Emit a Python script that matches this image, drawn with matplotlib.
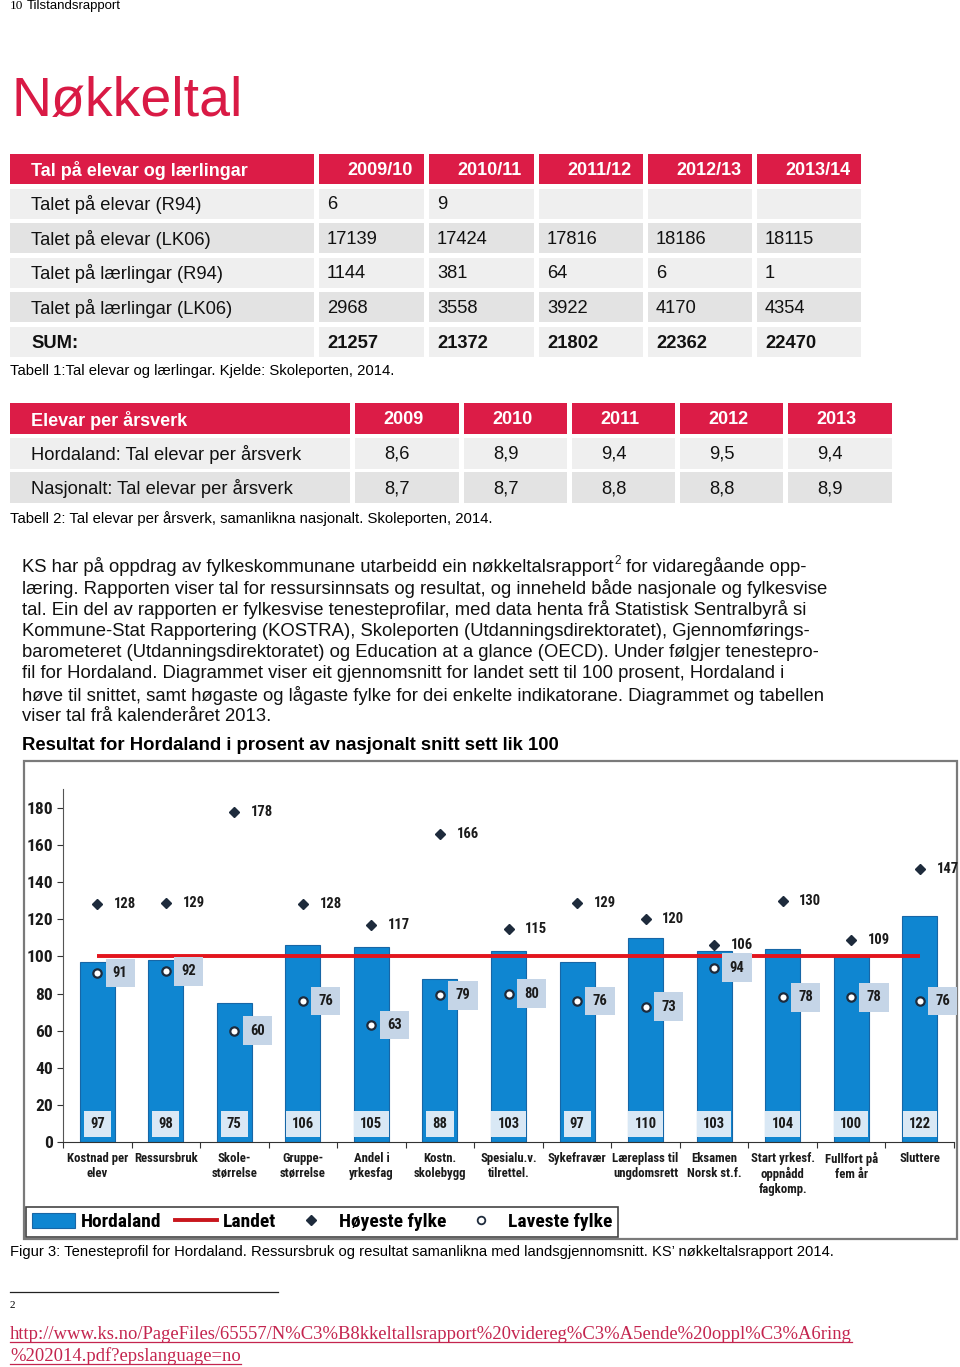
import os
import matplotlib
matplotlib.use("Agg")
import matplotlib.pyplot as plt
from matplotlib.patches import Rectangle, Patch
from matplotlib.lines import Line2D
from matplotlib import font_manager
from matplotlib.font_manager import FontProperties

# --- data -------------------------------------------------------------
t1_head = 'Tal på elevar og lærlingar'
t1_years = ['2009/10', '2010/11', '2011/12', '2012/13', '2013/14']
t1_labels = ['Talet på elevar (R94)', 'Talet på elevar (LK06)',
             'Talet på lærlingar (R94)', 'Talet på lærlingar (LK06)', 'SUM:']
elevar_r94 = ['6', '9', '', '', '']
elevar_lk06 = ['17139', '17424', '17816', '18186', '18115']
laerl_r94 = ['1144', '381', '64', '6', '1']
laerl_lk06 = ['2968', '3558', '3922', '4170', '4354']
t1_sum = ['21257', '21372', '21802', '22362', '22470']

t2_head = 'Elevar per årsverk'
t2_years = ['2009', '2010', '2011', '2012', '2013']
t2_labels = ['Hordaland: Tal elevar per årsverk', 'Nasjonalt: Tal elevar per årsverk']
hordaland_aarsverk = ['8,6', '8,9', '9,4', '9,5', '9,4']
nasjonalt_aarsverk = ['8,7', '8,7', '8,8', '8,8', '8,9']

categories = ['Kostnad per\nelev', 'Ressursbruk', 'Skole-\nstørrelse', 'Gruppe-\nstørrelse',
              'Andel i\nyrkesfag', 'Kostn.\nskolebygg', 'Spesialu.v.\ntilrettel.', 'Sykefravær',
              'Læreplass til\nungdomsrett', 'Eksamen\nNorsk st.f.', 'Start yrkesf.\noppnådd\nfagkomp.',
              'Fullfort på\nfem år', 'Sluttere']
hordaland = [97, 98, 75, 106, 105, 88, 103, 97, 110, 103, 104, 100, 122]
landet = [100] * 13
hoyeste = [128, 129, 178, 128, 117, 166, 115, 129, 120, 106, 130, 109, 147]
laveste = [91, 92, 60, 76, 63, 79, 80, 76, 73, 94, 78, 78, 76]

paragraph = [
    'KS har på oppdrag av fylkeskommunane utarbeidd ein nøkkeltalsrapport',
    'læring. Rapporten viser tal for ressursinnsats og resultat, og inneheld både nasjonale og fylkesvise',
    'tal. Ein del av rapporten er fylkesvise tenesteprofilar, med data henta frå Statistisk Sentralbyrå si',
    'Kommune-Stat Rapportering (KOSTRA), Skoleporten (Utdanningsdirektoratet), Gjennomførings-',
    'barometeret (Utdanningsdirektoratet) og Education at a glance (OECD). Under følgjer tenestepro-',
    'fil for Hordaland. Diagrammet viser eit gjennomsnitt for landet sett til 100 prosent, Hordaland i',
    'høve til snittet, samt høgaste og lågaste fylke for dei enkelte indikatorane. Diagrammet og tabellen',
    'viser tal frå kalenderåret 2013.',
]

# --- style ------------------------------------------------------------
RED = '#d91a45'
BAR = '#0f86d1'
NAVY = '#1e2b3c'
SANS = 'Liberation Sans'
plt.rcParams['font.family'] = SANS


def narrow_bold_file():
    fonts = font_manager.fontManager.ttflist
    prefs = ['liberation sans narrow', 'arial narrow', 'roboto condensed',
             'noto sans condensed', 'open sans condensed', 'dejavu sans condensed']
    bold = [f for f in fonts if f.style == 'normal' and f.weight in (700, 'bold')]
    for p in prefs:
        for f in bold:
            if f.name.lower() == p:
                return f.fname
    for f in fonts:
        fn = os.path.basename(f.fname).lower()
        if any(k in fn for k in ('condensedbold', 'condensed-bold', 'narrow-bold', 'narrowbold')) \
                and not any(k in fn for k in ('semi', 'extra', 'italic', 'mono', 'serif')):
            return f.fname
    return None


NFILE = narrow_bold_file()
SCALE = 1.0 if NFILE else 0.82


def nfp(size):
    if NFILE:
        return FontProperties(fname=NFILE, size=size)
    return FontProperties(family=SANS, weight='bold', size=size * SCALE)


fig = plt.figure(figsize=(9.6, 13.67), dpi=100)
page = fig.add_axes([0, 0, 1, 1])
page.set_xlim(0, 960)
page.set_ylim(1367, 0)
page.axis('off')

# header
page.text(10, 6, '10', family='Liberation Serif', fontsize=9.5, va='center')
page.text(27, 6, 'Tilstandsrapport', fontsize=9.5, va='center')
page.text(12, 116, 'Nøkkeltal', color=RED, fontsize=40, va='baseline')


def table(cols, top, row_h, gap, head, years, labels, rows, val_pad, bold_last=False):
    y = top
    for i, (x0, x1) in enumerate(cols):
        page.add_patch(Rectangle((x0, y), x1 - x0, row_h, color='#dc1c47', lw=0))
        txt = head if i == 0 else years[i - 1]
        page.text(x0 + (21 if i == 0 else 28), y + row_h / 2 + 1.5, txt, color='white',
                  fontsize=13, fontweight='bold', va='center')
    for r, (lab, vals) in enumerate(zip(labels, rows)):
        y = top + (r + 1) * (row_h + gap)
        bg = '#efefef' if r % 2 == 0 else '#e3e3e3'
        fw = 'bold' if (bold_last and r == len(labels) - 1) else 'normal'
        for i, (x0, x1) in enumerate(cols):
            page.add_patch(Rectangle((x0, y), x1 - x0, row_h, color=bg, lw=0))
            txt = lab if i == 0 else vals[i - 1]
            page.text(x0 + (21 if i == 0 else val_pad), y + row_h / 2 + 1, txt, fontsize=13.2,
                      fontweight=fw, va='center', color='#111111')


cols1 = [(10, 314), (319, 424), (429, 534), (539, 643), (648, 752), (757, 861)]
table(cols1, 154, 30, 4.6, t1_head, t1_years, t1_labels,
      [elevar_r94, elevar_lk06, laerl_r94, laerl_lk06, t1_sum], 8, bold_last=True)
page.text(10, 371, 'Tabell 1:Tal elevar og lærlingar. Kjelde: Skoleporten, 2014.',
          fontsize=10.7, va='center')

cols2 = [(10, 350), (355, 459), (464, 567), (572, 675), (680, 783), (788, 892)]
table(cols2, 403, 31, 3.5, t2_head, t2_years, t2_labels,
      [hordaland_aarsverk, nasjonalt_aarsverk], 29)
page.text(10, 519, 'Tabell 2: Tal elevar per årsverk, samanlikna nasjonalt. Skoleporten, 2014.',
          fontsize=10.7, va='center')

# paragraph
PS = 13.3
for k, line in enumerate(paragraph):
    t = page.text(22, 567 + k * 21.4, line, fontsize=PS, va='center', color='#111111')
    if k == 0:
        first = t
page.text(22, 746, 'Resultat for Hordaland i prosent av nasjonalt snitt sett lik 100',
          fontsize=PS, fontweight='bold', va='center')

# chart frame
page.add_patch(Rectangle((24, 761), 933, 478, fill=False, ec='#7a7a7a', lw=1.6))

# --- chart ------------------------------------------------------------
H = 1367.0
ax = fig.add_axes([63 / 960, (H - 1142) / H, (954 - 63) / 960, (1142 - 789.4) / H])
x = list(range(len(categories)))
ax.bar(x, hordaland, width=0.51, color=BAR, edgecolor='#1766a6', lw=0.8, zorder=2)
ax.plot(x, landet, color='#e3151d', lw=2.8, zorder=3, solid_capstyle='butt')
ax.plot(x, hoyeste, ls='none', marker='D', ms=5.5, color=NAVY, zorder=4)
ax.plot(x, laveste, ls='none', marker='o', ms=6, mfc='white', mec=NAVY, mew=1.6, zorder=4)

for i in x:
    ax.annotate(str(hoyeste[i]), (i, hoyeste[i]), xytext=(12, 0), textcoords='offset points',
                ha='left', va='center', fontproperties=nfp(10.5), color='#1b1b1b')
    ax.annotate(str(laveste[i]), (i, laveste[i]), xytext=(16.5, 0), textcoords='offset points',
                ha='center', va='center', zorder=5, fontproperties=nfp(10.5), color='#1b1b1b',
                bbox=dict(boxstyle='square,pad=0.5', fc='#c5d5e7', ec='none'))
    ax.annotate(str(hordaland[i]), (i, 0), xytext=(0, 13), textcoords='offset points',
                ha='center', va='center', zorder=5, fontproperties=nfp(10.5), color='#1b1b1b',
                bbox=dict(boxstyle='square,pad=0.42', fc='#d9e8f5', ec='none'))

ax.set_xlim(-0.5, 12.5)
ax.set_ylim(0, 190)
ax.set_yticks(range(0, 181, 20))
ax.set_xticks(x)
ax.set_xticklabels(categories, linespacing=1.2, color='#1b1b1b')
for t in ax.get_xticklabels():
    t.set_fontproperties(nfp(9.2))
ax.set_xticks([i - 0.5 for i in range(len(categories) + 1)], minor=True)
ax.tick_params(axis='x', which='major', length=0, pad=7)
ax.tick_params(axis='x', which='minor', length=4, width=0.8, direction='out', color='#333333')
ax.tick_params(axis='y', length=4, width=0.8, color='#333333', pad=3)
for t in ax.get_yticklabels():
    t.set_fontproperties(nfp(12.5))
    t.set_color('#1b1b1b')
for s in ['top', 'right']:
    ax.spines[s].set_visible(False)
ax.spines['left'].set_color('#555555')
ax.spines['bottom'].set_color('#333333')

handles = [Patch(fc=BAR, ec='#1766a6', lw=0.8),
           Line2D([], [], color='#c8161d', lw=2.8),
           Line2D([], [], ls='none', marker='D', ms=5, color=NAVY),
           Line2D([], [], ls='none', marker='o', ms=5.5, mfc='white', mec=NAVY, mew=1.3)]
leg = ax.legend(handles, ['Hordaland', 'Landet', 'Høyeste fylke', 'Laveste fylke'],
                loc='lower left', bbox_to_anchor=(26 / 960, (H - 1237) / H),
                bbox_transform=fig.transFigure, ncol=4, frameon=True, fancybox=False,
                edgecolor='#444444', framealpha=1, borderaxespad=0, borderpad=0.3,
                handlelength=2.2, handleheight=0.8, handletextpad=0.3, columnspacing=0.7,
                prop=nfp(14))
leg.get_frame().set_linewidth(1.2)

# captions and footnote
page.text(10, 1252, 'Figur 3: Tenesteprofil for Hordaland. Ressursbruk og resultat samanlikna '
          'med landsgjennomsnitt. KS\u2019 nøkkeltalsrapport 2014.', fontsize=10.6, va='center')
page.plot([10, 278], [1292, 1292], color='#222222', lw=0.9)
page.text(10, 1305, '2', family='Liberation Serif', fontsize=8, va='center')
urls = ['http://www.ks.no/PageFiles/65557/N%C3%B8kkeltallsrapport%20videreg%C3%A5ende%20oppl%C3%A6ring',
        '%202014.pdf?epslanguage=no']
url_texts = []
for k, u in enumerate(urls):
    url_texts.append(page.text(10, 1339 + k * 22, u, family='Liberation Serif', fontsize=13.4,
                               color='#c4254f', va='baseline'))

fig.canvas.draw()
r = fig.canvas.get_renderer()
# superscript after first paragraph line
bb = first.get_window_extent(r).transformed(page.transData.inverted())
sup = page.text(bb.x1 + 1, 561, '2', fontsize=8.5, va='center', color='#111111')
fig.canvas.draw()
bb2 = sup.get_window_extent(r).transformed(page.transData.inverted())
page.text(bb2.x1 + 5, 567, 'for vidaregåande opp-', fontsize=PS, va='center', color='#111111')
for k, t in enumerate(url_texts):
    b = t.get_window_extent(r).transformed(page.transData.inverted())
    page.plot([b.x0, b.x1], [1341.5 + k * 22] * 2, color='#c4254f', lw=0.9)

fig.savefig('out.png', dpi=100)
